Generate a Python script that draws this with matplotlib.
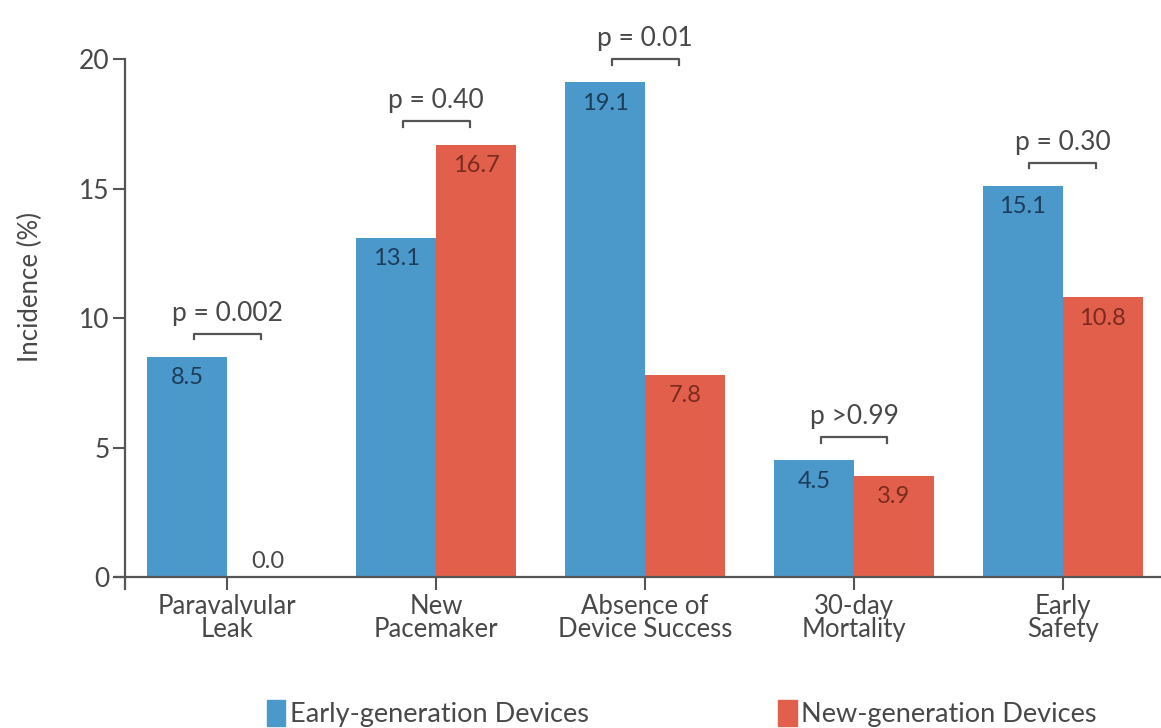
import numpy as np
import matplotlib.pyplot as plt
from matplotlib.patches import Patch

plt.rcParams['font.family'] = ['Lato', 'DejaVu Sans']

categories = ['Paravalvular\nLeak', 'New\nPacemaker', 'Absence of\nDevice Success',
              '30-day\nMortality', 'Early\nSafety']
early_gen = [8.5, 13.1, 19.1, 4.5, 15.1]
new_gen = [0.0, 16.7, 7.8, 3.9, 10.8]
p_labels = ['p = 0.002', 'p = 0.40', 'p = 0.01', 'p >0.99', 'p = 0.30']
series_names = ['Early-generation Devices', 'New-generation Devices']

blue = '#4b98ca'
red = '#e2604b'
axis_col = '#555555'
text_col = '#484848'

fig = plt.figure(figsize=(11.61, 7.28), dpi=100)
ax = fig.add_axes([0.1077, 0.2074, 0.8923, 0.7115])

x = np.arange(len(categories))
w = 0.383
ax.bar(x - w / 2, early_gen, w, color=blue)
ax.bar(x + w / 2, new_gen, w, color=red)

# value labels
for xi, v in zip(x, early_gen):
    ax.text(xi - w / 2, v - 0.8, f'{v:.1f}', ha='center', va='center',
            fontsize=17, color='#1d3c5a')
for xi, v in zip(x, new_gen):
    if v > 1:
        ax.text(xi + w / 2, v - 0.8, f'{v:.1f}', ha='center', va='center',
                fontsize=17, color='#7a2a1e')
    else:
        ax.text(xi + w / 2, v + 0.6, f'{v:.1f}', ha='center', va='center',
                fontsize=17, color=text_col)

# p-value brackets
for xi, a, b, p in zip(x, early_gen, new_gen, p_labels):
    top = max(a, b) + 0.9
    x0, x1 = xi - 0.16, xi + 0.16
    ax.plot([x0, x0, x1, x1], [top - 0.22, top, top, top - 0.22],
            color=axis_col, lw=1.6, clip_on=False)
    ax.text(xi, top + 0.3, p, ha='center', va='bottom', fontsize=19,
            color=text_col, clip_on=False)

ax.set_xlim(-0.49, 4.47)
ax.set_ylim(0, 20)
ax.set_yticks([0, 5, 10, 15, 20])
ax.set_xticks(x)
ax.set_xticklabels(categories, fontsize=18.5, color=text_col, linespacing=0.9)
ax.tick_params(axis='y', labelsize=19, labelcolor=text_col, color=axis_col,
               length=9, width=1.5, pad=2)
ax.tick_params(axis='x', color=axis_col, length=9, width=1.5, pad=3)
ax.set_ylabel('Incidence (%)', fontsize=18.5, color=text_col)
ax.yaxis.set_label_coords(-0.079, 0.56)

for s in ['top', 'right']:
    ax.spines[s].set_visible(False)
for s in ['left', 'bottom']:
    ax.spines[s].set_color(axis_col)
    ax.spines[s].set_linewidth(1.6)

# axis lines crossing at the origin
ax.plot([-0.54, -0.49], [0, 0], color=axis_col, lw=1.6, clip_on=False)
ax.plot([-0.49, -0.49], [0, -0.45], color=axis_col, lw=1.6, clip_on=False)

handles = [Patch(color=blue), Patch(color=red)]
fig.legend(handles, series_names, loc='center', bbox_to_anchor=(0.587, 0.02),
           ncol=2, frameon=False, fontsize=19.5, handlelength=0.7,
           handleheight=1.1, handletextpad=0.15, columnspacing=7.0,
           labelcolor=text_col)

fig.savefig('out.png', dpi=100)
